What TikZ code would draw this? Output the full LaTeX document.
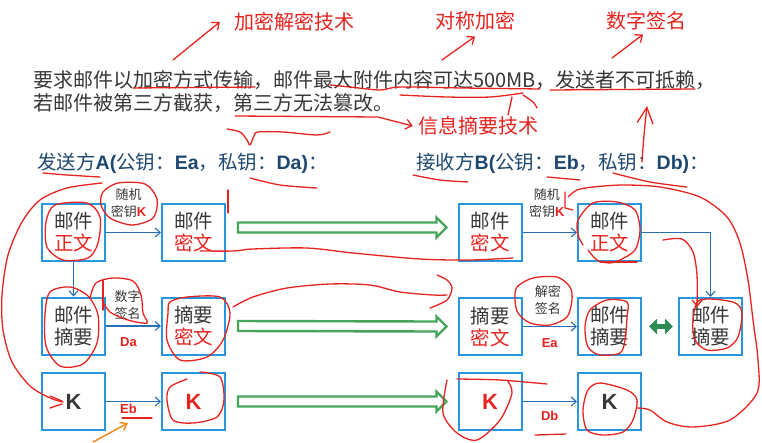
\documentclass[tikz,border=0pt]{standalone}
\usepackage{fontspec}
\setmainfont{Noto Sans CJK SC}
\setsansfont{Liberation Sans}
\usetikzlibrary{arrows.meta}
\definecolor{boxblue}{RGB}{40,152,222}
\definecolor{arrblue}{RGB}{40,112,182}
\definecolor{fatgreen}{RGB}{70,165,90}
\definecolor{dblgreen}{RGB}{45,140,85}
\definecolor{headblue}{RGB}{30,72,112}
\definecolor{txtgray}{RGB}{55,55,55}
\definecolor{inkred}{RGB}{230,35,30}
\definecolor{inkorange}{RGB}{240,140,40}
\begin{document}
\begin{tikzpicture}[x=1pt, y=-1pt,
    box/.style={draw=boxblue, line width=2pt, minimum width=63pt, minimum height=57pt,
                inner sep=0pt, align=center, text=txtgray, font=\fontsize{19.5}{22}\selectfont},
    kbox/.style={box, font=\sffamily\bfseries\fontsize{22}{24}\selectfont},
    arr/.style={-{Straight Barb[length=5pt,width=9pt]}, arrblue, line width=1.1pt},
    lbl/.style={font=\fontsize{13}{17}\selectfont, align=center, text=txtgray, inner sep=1pt},
    klbl/.style={font=\sffamily\bfseries\fontsize{13}{15}\selectfont, text=inkred, inner sep=1pt},
    fat/.style={draw=fatgreen, line width=2.4pt, fill=white},
    dbl/.style={dblgreen, line width=5pt, {Triangle[length=8pt,width=15pt]}-{Triangle[length=8pt,width=15pt]}},
    note/.style={text=inkred, font=\fontsize{20}{22}\selectfont, inner sep=0pt},
    head/.style={text=headblue, font=\fontsize{19.5}{22}\selectfont, inner sep=0pt, anchor=west},
    ink/.style={inkred, line width=1.3pt, line cap=round, line join=round},
    inkarr/.style={ink, -{Straight Barb[length=6pt,width=10pt]}},
    orarr/.style={inkorange, line width=1.5pt, line cap=round, -{Straight Barb[length=6pt,width=9pt]}}
  ]
    \useasboundingbox (0,0) rectangle (762,442);

    \node[note] (tEnc)  at (294,22)  {加密解密技术};
    \node[note] (tSym)  at (475,21)  {对称加密};
    \node[note] (tSig)  at (646,21)  {数字签名};
    \node[note] (tHash) at (478,126) {信息摘要技术};
    \node[anchor=west, align=left, inner sep=0pt, text=txtgray, font=\fontsize{20}{23}\selectfont] (req) at (33,91.5)
      {要求邮件以加密方式传输，邮件最大附件内容可达500MB，发送者不可抵赖，\\若邮件被第三方截获，第三方无法篡改。};
    \node[head] (sndr) at (37,163)  {发送方{\sffamily\bfseries A(}公钥：{\sffamily\bfseries Ea}，私钥：{\sffamily\bfseries Da)}：};
    \node[head] (rcvr) at (416,163) {接收方{\sffamily\bfseries B(}公钥：{\sffamily\bfseries Eb}，私钥：{\sffamily\bfseries Db)}：};

    \node[box]  (plainA)  at (73.5,232.5)  {邮件\\\textcolor{inkred}{正文}};
    \node[box]  (cipherA) at (193.5,232.5) {邮件\\\textcolor{inkred}{密文}};
    \node[box]  (digA)    at (73.5,326)    {邮件\\摘要};
    \node[box]  (sigA)    at (193.5,326)   {摘要\\\textcolor{inkred}{密文}};
    \node[kbox] (keyA)    at (73.5,401.5)  {K};
    \node[kbox, text=inkred] (ekeyA) at (193.5,401.5) {K};

    \node[box]  (cipherB) at (490,232.5)   {邮件\\\textcolor{inkred}{密文}};
    \node[box]  (plainB)  at (609.5,232.5) {邮件\\\textcolor{inkred}{正文}};
    \node[box]  (sigB)    at (490,326.5)   {摘要\\\textcolor{inkred}{密文}};
    \node[box]  (digB)    at (609.5,326.5) {邮件\\摘要};
    \node[box]  (digC)    at (710.5,326.5) {邮件\\摘要};
    \node[kbox, text=inkred] (ekeyB) at (490,401.5) {K};
    \node[kbox] (keyB)    at (609.5,401.5) {K};

    \draw[arr] (plainA) -- node[above=13pt,xshift=-5pt,lbl]{随机\\密钥\textcolor{inkred}{\sffamily\bfseries K}} (cipherA);
    \draw[arr] (plainA) -- (digA);
    \draw[arr] (digA) -- node[above=5pt,xshift=-6pt,lbl]{数字\\签名} node[below=10pt,xshift=-5pt,klbl]{Da} (sigA);
    \draw[arr] (keyA) -- node[below=1pt,xshift=-5pt,klbl]{Eb} (ekeyA);
    \draw[arr] (cipherB) -- node[above=13pt,xshift=-3pt,lbl]{随机\\密钥\textcolor{inkred}{\sffamily\bfseries K}} (plainB);
    \draw[arr] (sigB) -- node[above=10pt,xshift=-2pt,lbl]{解密\\签名} node[below=10pt,klbl]{Ea} (digB);
    \draw[arr] (ekeyB) -- node[below=8pt,klbl]{Db} (keyB);
    \draw[arr] (plainB) -| (digC);

    \foreach \a/\b/\dy in {cipherA/cipherB/5, sigA/sigB/0, ekeyA/ekeyB/0}
      \draw[fat] ([shift={(12pt,\dy pt+5pt)}]\a.east) -- ([shift={(-21pt,\dy pt+5pt)}]\b.west)
        -- ([shift={(-21pt,\dy pt+10pt)}]\b.west) -- ([shift={(-11pt,\dy pt)}]\b.west)
        -- ([shift={(-21pt,\dy pt-10pt)}]\b.west) -- ([shift={(-21pt,\dy pt-5pt)}]\b.west)
        -- ([shift={(12pt,\dy pt-5pt)}]\a.east) -- cycle;
    \draw[dbl] ([xshift=7pt]digB.east) -- ([xshift=-5pt]digC.west);

    \coordinate (uEnc) at (173,60);
    \coordinate (uSym) at (442,60);
    \coordinate (uSig) at (612,58);
    \coordinate (uTam) at (235,116);
    \draw[inkarr] (uEnc) -- ([xshift=-14pt]tEnc.west);
    \draw[inkarr] (uSym) -- ([yshift=-6pt]tSym.south);
    \draw[inkarr] (uSig) -- ([xshift=-3pt,yshift=-4pt]tSig.south);
    \draw[inkarr] (uTam) -- (378,117) -- ([xshift=-5pt]tHash.west);

    \draw[ink] (133,88) -- (255,87);
    \draw[ink] plot[smooth] coordinates {(330,85) (350,87) (380,90) (400,87) (463,88) (540,89)};
    \draw[ink] plot[smooth] coordinates {(400,95) (447,97) (490,97) (523,93)};
    \draw[ink] (512,97) -- (508,115);
    \draw[ink] plot[smooth] coordinates {(523,95) (533,102) (537,108)};
    \draw[ink] (550,90) -- (695,89);
    \draw[ink] plot[smooth] coordinates {(227,129) (240,132) (247,140) (250,145) (254,136) (258,132) (283,132) (317,135) (330,132)};
    \draw[ink, -{Straight Barb[length=16pt,width=16pt]}] plot[smooth] coordinates {(642,162) (644,135) (647,106)};
    \draw[ink] plot[smooth] coordinates {(43,173) (67,175) (100,177)};
    \draw[ink] plot[smooth] coordinates {(250,178) (280,185) (317,188)};
    \draw[ink] plot[smooth] coordinates {(413,175) (440,180) (468,182)};
    \draw[ink] (547,177) -- (580,180);
    \draw[ink] plot[smooth] coordinates {(613,173) (650,182) (687,187)};
    \draw[ink] (228,190) -- (228,213);

    \draw[ink] plot[smooth] coordinates {(102,183) (67,188) (40,200) (22,222) (8,255) (2,295) (3,330) (12,362) (30,386) (50,398) (63,402)};
    \draw[ink] (50,396) -- (62,401) (50,408) -- (62,404);
    \draw[ink] plot[smooth cycle] coordinates {(103,192) (118,183) (145,184) (157,199) (153,218) (132,225) (110,218) (101,205)};
    \draw[ink] plot[smooth cycle] coordinates {(55,205) (87,203) (100,217) (98,243) (88,258) (63,260) (47,247) (46,222)};
    \draw[ink] plot[smooth cycle] coordinates {(50,292) (70,287) (88,296) (98,315) (97,343) (83,364) (60,366) (46,346) (45,314)};
    \draw[ink] plot[smooth] coordinates {(90,298) (96,283) (113,278) (133,281) (141,295) (143,313) (147,323) (128,320) (110,312) (102,300)};
    \draw[ink] (103,280) -- (103,310);
    \draw[ink] plot[smooth cycle] coordinates {(170,302) (187,297) (220,297) (230,313) (223,340) (207,357) (180,360) (167,340) (168,313)};
    \draw[ink] plot[smooth] coordinates {(200,372) (220,377) (224,400) (217,417) (193,423) (173,420) (167,400) (170,387) (187,379)};
    \draw[ink] (122,418) -- (152,418);
    \draw[orarr] (93,442) -- (128,423);

    \draw[ink] plot[smooth] coordinates {(200,251) (233,251) (253,249) (307,248) (353,253) (420,259) (470,260) (513,258)};
    \draw[ink] plot[smooth] coordinates {(233,307) (253,297) (287,288) (330,284) (370,285) (400,292) (433,295) (447,295)};
    \draw[ink] plot[smooth] coordinates {(437,275) (447,280) (452,288) (447,300) (430,308)};

    \draw[ink] plot[smooth] coordinates {(583,245) (578,235) (578,220) (593,203) (617,202) (635,210) (640,230) (635,250) (620,260) (610,263) (597,260) (588,250)};
    \draw[ink] (600,262) -- (637,262);
    \draw[ink] (565,192) -- (565,208) -- (573,210);
    \draw[ink] plot[smooth] coordinates {(637,408) (650,410) (667,422) (693,427) (730,420) (757,393) (758,360) (753,320) (748,280) (740,243) (727,217) (700,197) (660,187) (623,185) (593,187) (577,190) (568,197)};
    \draw[inkarr] plot[smooth] coordinates {(663,240) (682,239) (693,252) (697,275) (697,307)};
    \draw[ink] plot[smooth cycle] coordinates {(700,300) (733,302) (742,313) (738,337) (727,348) (707,350) (695,340) (693,320)};
    \draw[ink] plot[smooth cycle] coordinates {(590,310) (607,300) (627,302) (627,317) (625,340) (620,353) (600,355) (588,347) (585,327)};
    \draw[ink] plot[smooth cycle] coordinates {(517,287) (533,278) (557,277) (570,287) (572,300) (567,317) (550,325) (530,323) (518,313) (515,300)};
    \draw[ink] plot[smooth] coordinates {(507,380) (512,393) (500,420) (477,440) (457,433) (443,413) (447,380)};
    \draw[ink] plot[smooth] coordinates {(457,379) (500,380) (547,384)};
    \draw[ink] plot[smooth cycle] coordinates {(588,390) (600,383) (627,390) (637,400) (633,420) (623,432) (603,435) (587,430) (583,410)};
    \draw[ink] (535,435) -- (566,434);
  \end{tikzpicture}
\end{document}
